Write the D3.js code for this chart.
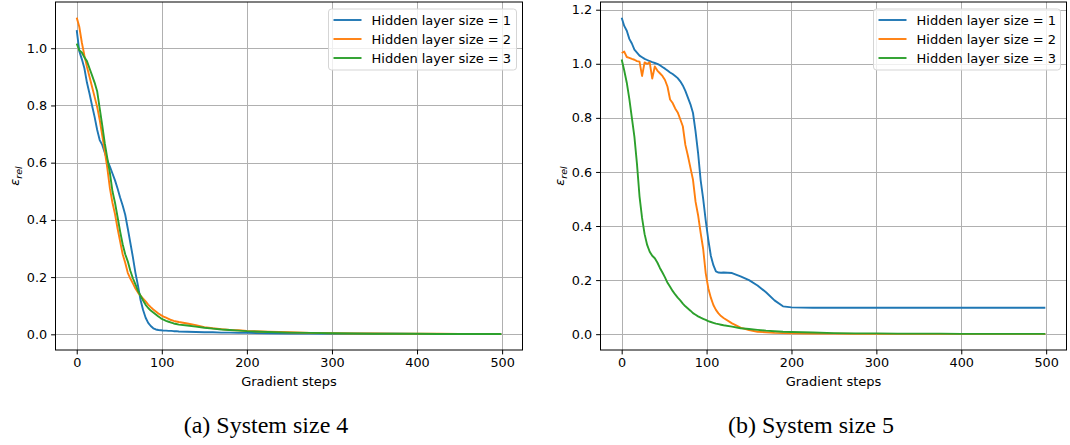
<!DOCTYPE html>
<meta charset="utf-8">
<style>
  body { margin: 0; background: #fff; }
  svg text { font-family: "DejaVu Sans", sans-serif; }
  .grid line { stroke: #b0b0b0; stroke-width: 1; }
  .axis path, .axis line { stroke: #000; stroke-width: 1; }
  .axis text { font-size: 12.8px; fill: #000; }
  .curve { fill: none; stroke-width: 1.9; stroke-linejoin: round; }
  .caption { font-family: "Liberation Serif", "DejaVu Serif", serif; font-size: 24px; }
</style>
<body>
<script src="https://cdn.jsdelivr.net/npm/d3@7"></script>
<script>

var steps = [0,3,6,9,12,15,18,21,24,27,30,33,36,39,42,45,48,51,54,57,60,
  63,66,69,72,75,78,81,84,87,90,93,96,99,102,105,108,111,114,117,120,
  130,140,150,160,170,180,190,200,225,250,275,300,325,350,375,400,425,450,475,499];

var seriesNames = ["Hidden layer size = 1", "Hidden layer size = 2", "Hidden layer size = 3"];
var colors = ["#1f77b4", "#ff7f0e", "#2ca02c"];

// (a) system size 4
var size4_h1 = [1.063,0.990,0.962,0.930,0.880,0.842,0.800,0.760,0.715,0.679,0.662,0.635,0.608,0.586,0.562,
  0.538,0.510,0.478,0.450,0.418,0.370,0.320,0.270,0.215,0.170,0.120,0.085,0.058,0.040,0.029,0.021,0.017,
  0.015,0.014,0.013,0.013,0.012,0.012,0.011,0.011,0.010,
  0.009,0.008,0.007,0.007,0.006,0.006,0.005,0.005,0.004,0.003,0.003,0.002,0.002,0.002,0.002,0.001,0.001,0.001,0.001,0.001];
var size4_h2 = [1.107,1.075,1.020,0.975,0.935,0.900,0.865,0.830,0.795,0.750,0.695,0.640,0.580,0.510,0.460,
  0.420,0.370,0.325,0.280,0.250,0.215,0.195,0.178,0.160,0.146,0.135,0.125,0.115,0.104,0.095,0.087,0.080,
  0.073,0.067,0.062,0.058,0.054,0.050,0.047,0.045,0.043,
  0.038,0.032,0.025,0.021,0.018,0.015,0.014,0.012,0.009,0.007,0.005,0.004,0.003,0.003,0.002,0.002,0.002,0.001,0.001,0.001];
var size4_h3 = [1.016,0.993,0.985,0.968,0.955,0.930,0.905,0.880,0.850,0.790,0.730,0.667,0.615,0.564,0.500,
  0.460,0.410,0.360,0.315,0.280,0.255,0.222,0.196,0.175,0.152,0.135,0.118,0.103,0.092,0.083,0.076,0.069,
  0.062,0.056,0.051,0.047,0.044,0.041,0.038,0.036,0.034,
  0.031,0.027,0.023,0.020,0.017,0.015,0.013,0.011,0.008,0.006,0.005,0.004,0.003,0.002,0.002,0.002,0.001,0.001,0.001,0.001];

// (b) system size 5
var size5_h1 = [1.170,1.140,1.122,1.092,1.075,1.052,1.041,1.030,1.024,1.018,1.014,1.010,1.006,1.003,1.000,
  0.995,0.988,0.982,0.975,0.968,0.962,0.955,0.947,0.935,0.920,0.900,0.875,0.850,0.818,0.750,0.670,0.570,
  0.500,0.420,0.350,0.290,0.255,0.232,0.228,0.227,0.228,
  0.226,0.214,0.200,0.180,0.155,0.125,0.103,0.099,0.098,0.098,0.098,0.098,0.098,0.098,0.098,0.098,0.098,0.098,0.098,0.098];
var size5_h2 = [1.040,1.045,1.025,1.022,1.018,1.015,1.010,1.008,0.955,1.005,1.000,1.005,0.945,0.990,0.975,
  0.965,0.955,0.940,0.915,0.868,0.855,0.835,0.820,0.795,0.769,0.700,0.660,0.615,0.571,0.490,0.440,0.375,
  0.315,0.225,0.170,0.135,0.108,0.090,0.077,0.067,0.060,
  0.040,0.024,0.015,0.009,0.007,0.005,0.004,0.003,0.002,0.002,0.001,0.001,0.001,0.001,0.001,0.001,0.001,0.001,0.001,0.001];
var size5_h3 = [1.016,0.975,0.930,0.870,0.800,0.730,0.630,0.510,0.430,0.370,0.330,0.305,0.290,0.281,0.265,
  0.245,0.228,0.210,0.190,0.175,0.160,0.147,0.135,0.125,0.113,0.103,0.095,0.087,0.078,0.072,0.066,0.061,
  0.057,0.053,0.048,0.045,0.042,0.039,0.037,0.035,0.033,
  0.028,0.022,0.019,0.016,0.013,0.011,0.009,0.008,0.006,0.004,0.003,0.003,0.002,0.002,0.002,0.001,0.001,0.001,0.001,0.001];

var xTicks = [0, 100, 200, 300, 400, 500];
var yTicks4 = [0, 0.2, 0.4, 0.6, 0.8, 1.0];
var yTicks5 = [0, 0.2, 0.4, 0.6, 0.8, 1.0, 1.2];

var svg = d3.select("body").append("svg")
  .attr("width", 1070)
  .attr("height", 445);

function drawPanel(p) {
  var x = d3.scaleLinear().domain([-24.95, 523.95]).range([p.left, p.right]);
  var y = d3.scaleLinear().domain(p.ylim).range([350, 2]);
  var g = svg.append("g");

  // grid
  var grid = g.append("g").attr("class", "grid");
  grid.selectAll(".gx").data(xTicks).enter().append("line")
    .attr("x1", function(d) { return Math.round(x(d)) + 0.5; })
    .attr("x2", function(d) { return Math.round(x(d)) + 0.5; })
    .attr("y1", y.range()[1]).attr("y2", y.range()[0]);
  grid.selectAll(".gy").data(p.yTicks).enter().append("line")
    .attr("y1", function(d) { return Math.round(y(d)) + 0.5; })
    .attr("y2", function(d) { return Math.round(y(d)) + 0.5; })
    .attr("x1", p.left).attr("x2", p.right);

  var clipId = "clip" + p.id;
  g.append("clipPath").attr("id", clipId).append("rect")
    .attr("x", p.left).attr("y", 2).attr("width", p.right - p.left).attr("height", 348);

  var line = d3.line()
    .x(function(d, i) { return x(steps[i]); })
    .y(function(d) { return y(d); });

  g.append("g").attr("clip-path", "url(#" + clipId + ")")
    .selectAll("path").data(p.series).enter().append("path")
    .attr("class", "curve")
    .attr("stroke", function(d, i) { return colors[i]; })
    .attr("d", line);

  // frame
  g.append("rect")
    .attr("x", p.left).attr("y", 2)
    .attr("width", p.right - p.left).attr("height", 348)
    .attr("fill", "none").attr("stroke", "#000").attr("stroke-width", 1);

  g.append("g").attr("class", "axis")
    .attr("transform", "translate(0,350)")
    .call(d3.axisBottom(x).tickValues(xTicks).tickSize(4.4).tickPadding(4).tickFormat(d3.format("d")))
    .call(function(s) { s.select(".domain").remove(); });

  g.append("g").attr("class", "axis")
    .attr("transform", "translate(" + p.left + ",0)")
    .call(d3.axisLeft(y).tickValues(p.yTicks).tickSize(4.4).tickPadding(4).tickFormat(d3.format(".1f")))
    .call(function(s) { s.select(".domain").remove(); });

  // axis labels
  g.append("text")
    .attr("x", (p.left + p.right) / 2).attr("y", 386)
    .attr("text-anchor", "middle").attr("font-size", "13px")
    .text("Gradient steps");

  var yl = g.append("text")
    .attr("transform", "translate(" + (p.left - 37) + ",176) rotate(-90)")
    .attr("text-anchor", "middle").attr("font-size", "13px")
    .attr("font-style", "italic");
  yl.append("tspan").text("\u03b5");
  yl.append("tspan").attr("font-size", "9.5px").attr("dy", 3).text("rel");

  // legend
  var lg = g.append("g").attr("transform", "translate(" + p.legendX + ",9)");
  lg.append("rect")
    .attr("width", p.right - 6 - p.legendX).attr("height", 61).attr("rx", 3)
    .attr("fill", "#fff").attr("fill-opacity", 0.8)
    .attr("stroke", "#d5d5d5").attr("stroke-width", 1);
  var item = lg.selectAll(".item").data(seriesNames).enter().append("g")
    .attr("transform", function(d, i) { return "translate(0," + (11 + i * 19) + ")"; });
  item.append("line")
    .attr("x1", 5).attr("x2", 33)
    .attr("stroke", function(d, i) { return colors[i]; })
    .attr("stroke-width", 1.9);
  item.append("text")
    .attr("x", 43).attr("dy", "0.36em").attr("font-size", "13px")
    .text(function(d) { return d; });

  svg.append("text").attr("class", "caption")
    .attr("x", p.captionX).attr("y", 433)
    .attr("text-anchor", "middle")
    .text(p.caption);
}

drawPanel({
  id: "a", left: 55.5, right: 522.5, ylim: [-0.0548, 1.1616], yTicks: yTicks4,
  series: [size4_h1, size4_h2, size4_h3], legendX: 328.5,
  caption: "(a) System size 4", captionX: 266
});
drawPanel({
  id: "b", left: 600.5, right: 1066.5, ylim: [-0.0585, 1.2285], yTicks: yTicks5,
  series: [size5_h1, size5_h2, size5_h3], legendX: 873.5,
  caption: "(b) System size 5", captionX: 811
});
</script>
</body>
